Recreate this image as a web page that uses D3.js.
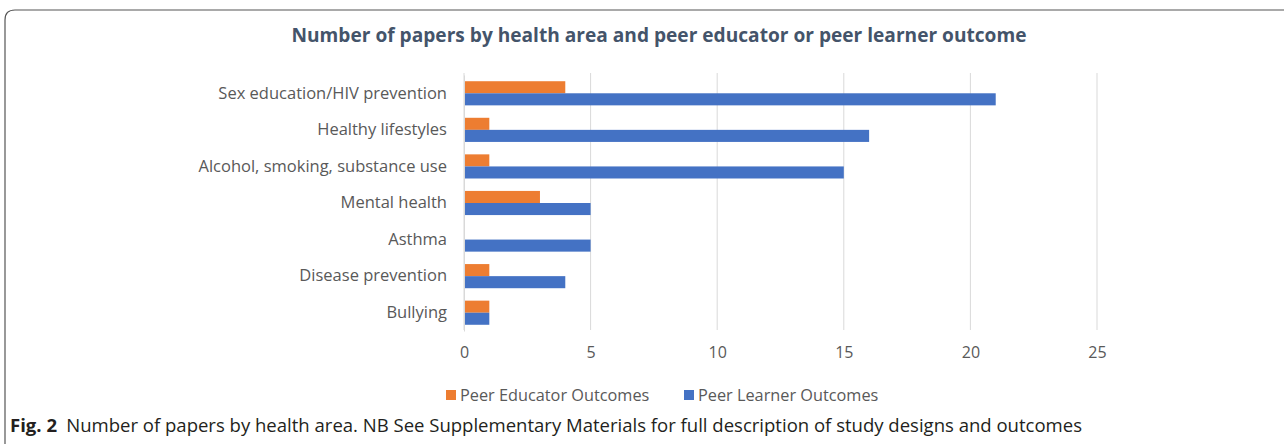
<!DOCTYPE html>
<html><head><meta charset="utf-8">
<script src="https://cdn.jsdelivr.net/npm/d3@7"></script>
<style>body{margin:0;background:#fff}svg{display:block}</style>
</head><body>
<script>
const categories = ["Sex education/HIV prevention","Healthy lifestyles","Alcohol, smoking, substance use","Mental health","Asthma","Disease prevention","Bullying"];
const peerEducator = [4,1,1,3,0,1,1];
const peerLearner = [21,16,15,5,5,4,1];
const xTicks = [0,5,10,15,20,25];
const seriesNames = ["Peer Educator Outcomes","Peer Learner Outcomes"];
const colors = ["#ED7D31","#4472C4"];

const W=1284,H=444;
const svg=d3.select("body").append("svg").attr("width",W).attr("height",H);
// frame
svg.append("path").attr("d","M5,444 L5,20 Q5,10 15,10 L1290,10").attr("fill","none").attr("stroke","#555").attr("stroke-width",1.2);

const x=d3.scaleLinear().domain([0,25]).range([464,1097]);
const y=d3.scaleBand().domain(categories).range([75,331]).paddingInner(0.34).paddingOuter(0.17);
const sub=d3.scaleBand().domain([0,1]).range([0,y.bandwidth()]);

svg.append("text").attr("x",659).attr("y",42).attr("text-anchor","middle")
 .attr("font-family","Open Sans").attr("font-weight","bold").attr("font-size",19).attr("fill","#44546A")
 .attr("textLength",735).attr("lengthAdjust","spacingAndGlyphs")
 .text("Number of papers by health area and peer educator or peer learner outcome");

const g=svg.append("g");
g.selectAll("line.grid").data(xTicks).join("line").attr("class","grid")
 .attr("x1",d=>x(d)).attr("x2",d=>x(d)).attr("y1",73).attr("y2",330)
 .attr("stroke","#D9D9D9").attr("stroke-width",1);

const series=[peerEducator,peerLearner];
series.forEach((vals,si)=>{
 g.selectAll("rect.s"+si).data(categories).join("rect").attr("class","s"+si)
  .attr("x",x(0)).attr("y",(c)=>y(c)+sub(si)).attr("height",sub.bandwidth())
  .attr("width",(c,i)=>x(vals[i])-x(0)).attr("fill",colors[si]);
});

const xAxis=d3.axisBottom(x).tickValues(xTicks).tickSize(0).tickPadding(0);
const ax=svg.append("g").attr("transform","translate(0,347)").call(xAxis);
ax.select(".domain").remove();
ax.selectAll("text").attr("font-family","Open Sans").attr("font-size",16).attr("fill","#595959").attr("dy","0.71em");

const yAxis=d3.axisLeft(y).tickSize(0).tickPadding(17);
const ay=svg.append("g").attr("transform","translate(464,0)").call(yAxis);
ay.select(".domain").attr("stroke","#D9D9D9");
ay.selectAll("text").attr("font-family","Open Sans").attr("font-size",16.5).attr("fill","#595959");

// legend
const leg=svg.append("g").attr("font-family","Open Sans").attr("font-size",16.3).attr("fill","#595959");
const lx=[446,684];
seriesNames.forEach((n,i)=>{
 leg.append("rect").attr("x",lx[i]).attr("y",390).attr("width",10).attr("height",10).attr("fill",colors[i]);
 leg.append("text").attr("x",lx[i]+14).attr("y",401).attr("fill","#595959").text(n);
});

// caption
const cap=svg.append("text").attr("x",10).attr("y",432).attr("font-family","Open Sans").attr("font-size",18.4).attr("fill","#231F20")
 .attr("textLength",1072).attr("lengthAdjust","spacingAndGlyphs");
cap.append("tspan").attr("font-weight","bold").text("Fig. 2");
cap.append("tspan").text("\u2002Number of papers by health area. NB See Supplementary Materials for full description of study designs and outcomes");
</script>
</body></html>
